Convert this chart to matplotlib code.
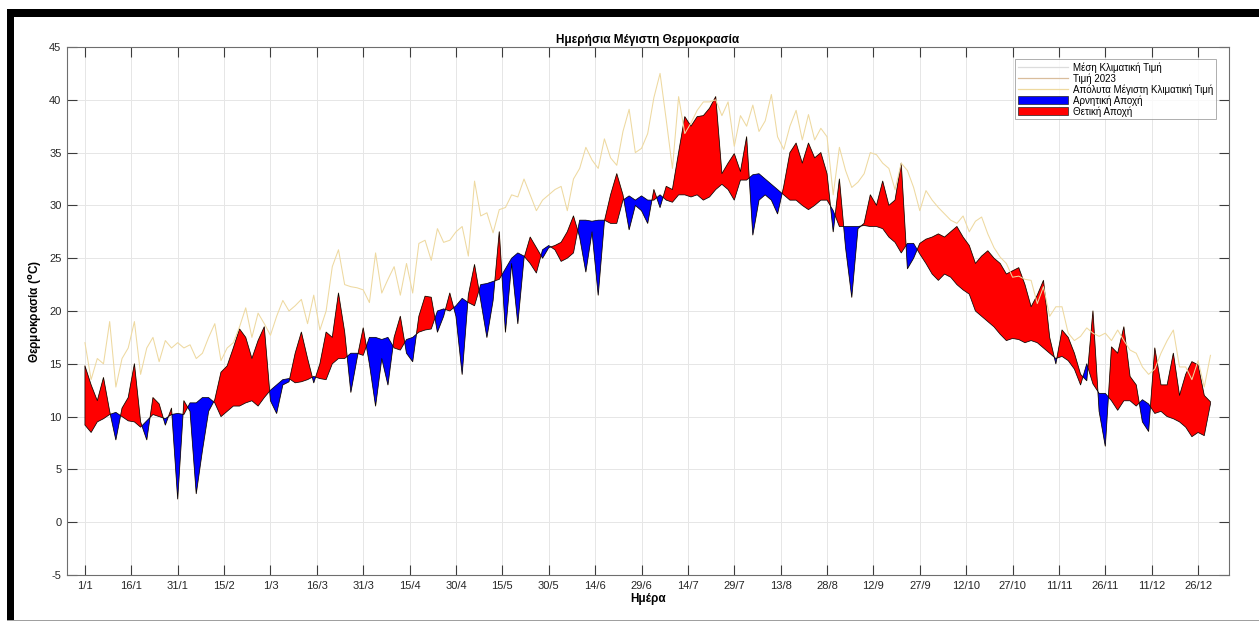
import matplotlib
matplotlib.use("Agg")
import matplotlib.pyplot as plt
from matplotlib.patches import Rectangle, Patch
from matplotlib.lines import Line2D
import numpy as np

plt.rcParams["font.family"] = ["Liberation Sans", "DejaVu Sans"]
plt.rcParams["axes.unicode_minus"] = False

# ── Data (every second day) ───────────────────────────────────────────────────
DAYS = list(range(1, 366, 2))

CLIM_MEAN = [
    9.2, 8.5, 9.5, 9.8, 10.2, 10.4, 10.0, 9.6, 9.5, 9.0,
    9.6, 10.2, 10.0, 9.8, 10.2, 10.3, 10.2, 11.3, 11.3, 11.8,
    11.8, 11.3, 10.0, 10.5, 11.0, 11.0, 11.3, 11.5, 11.0, 11.8,
    12.5, 13.0, 13.5, 13.6, 13.2, 13.3, 13.5, 13.8, 13.6, 13.5,
    15.0, 15.5, 15.5, 16.0, 16.0, 15.8, 17.5, 17.5, 17.3, 17.5,
    16.5, 16.3, 17.3, 17.5, 18.0, 18.2, 18.3, 20.0, 20.2, 20.0,
    20.5, 21.2, 20.8, 20.5, 22.5, 22.6, 22.8, 23.0, 24.0, 25.0,
    25.5, 25.2, 24.5, 23.6, 25.8, 26.2, 25.8, 24.7, 25.0, 25.5,
    28.6, 28.6, 28.5, 28.6, 28.6, 28.3, 28.3, 30.5, 30.9, 30.5,
    30.9, 30.5, 30.5, 31.0, 30.5, 30.3, 31.0, 31.0, 30.8, 31.0,
    30.5, 30.8, 31.5, 32.0, 31.5, 30.5, 32.4, 32.4, 32.9, 33.0,
    32.5, 32.0, 31.5, 31.0, 30.5, 30.5, 30.0, 29.6, 30.0, 30.5,
    30.5, 29.5, 28.0, 28.0, 28.0, 28.0, 28.1, 28.0, 28.0, 27.8,
    27.0, 26.5, 25.5, 26.4, 26.4, 25.4, 24.5, 23.5, 22.9, 23.5,
    23.2, 22.5, 22.0, 21.6, 20.0, 19.5, 19.0, 18.5, 17.8, 17.2,
    17.4, 17.3, 17.0, 17.2, 17.0, 16.5, 16.0, 15.5, 15.7, 15.3,
    14.5, 13.0, 15.0, 13.1, 12.2, 12.2, 11.5, 10.6, 11.5, 11.5,
    11.0, 11.6, 11.2, 10.3, 10.5, 10.0, 9.8, 9.5, 9.0, 8.1,
    8.5, 8.2, 11.2,
]

VALUE_2023 = [
    14.8, 13.0, 11.5, 13.7, 10.5, 7.8, 10.8, 11.8, 15.0, 9.5,
    7.8, 11.8, 11.2, 9.2, 10.8, 2.2, 11.5, 10.5, 2.7, 6.8,
    10.5, 11.6, 14.2, 14.8, 16.5, 18.3, 17.5, 15.5, 17.2, 18.5,
    11.5, 10.3, 13.0, 13.3, 16.0, 18.0, 15.5, 13.2, 15.0, 18.0,
    17.5, 21.7, 18.0, 12.3, 15.5, 18.4, 15.0, 11.0, 15.5, 13.0,
    17.5, 19.5, 16.0, 15.2, 19.5, 21.4, 21.3, 18.0, 19.5, 21.7,
    19.5, 14.0, 21.5, 24.4, 21.0, 17.5, 21.0, 27.5, 18.0, 24.5,
    18.8, 25.0, 27.0, 26.0, 25.0, 26.0, 26.2, 26.5, 27.5, 29.0,
    27.0, 23.7, 27.5, 21.5, 28.5, 31.0, 33.0, 31.0, 27.7, 30.0,
    29.5, 28.3, 31.5, 29.8, 31.8, 31.5, 35.0, 38.4, 37.5, 38.4,
    38.5, 39.2, 40.3, 33.0, 34.0, 34.9, 33.2, 36.5, 27.2, 30.5,
    31.0, 30.5, 29.2, 31.8, 35.0, 35.9, 34.0, 35.9, 34.5, 35.0,
    33.0, 27.5, 32.5, 26.0, 21.3, 27.8, 28.3, 31.0, 30.0, 32.3,
    30.0, 30.5, 34.0, 24.0, 25.0, 26.4, 26.8, 27.0, 27.3, 27.0,
    27.5, 28.0, 27.0, 26.2, 24.5, 25.2, 25.7, 25.0, 24.5, 23.5,
    23.8, 24.1, 22.5, 20.4, 21.5, 22.9, 17.5, 15.0, 18.2, 17.5,
    16.0, 14.0, 13.4, 20.0, 10.5, 7.2, 16.6, 16.0, 18.5, 13.8,
    13.0, 9.5, 8.6, 16.5, 13.0, 13.0, 16.0, 12.0, 14.0, 15.2,
    14.9, 12.0, 11.4,
]

ABS_MAX = [
    17.0, 13.5, 15.5, 15.0, 19.0, 12.8, 15.5, 16.5, 19.0, 14.0,
    16.5, 17.5, 15.2, 17.2, 16.5, 17.0, 16.5, 16.8, 15.5, 16.0,
    17.5, 18.8, 15.3, 16.5, 17.0, 18.5, 20.3, 17.5, 19.8, 18.8,
    17.7, 19.5, 21.0, 20.0, 20.5, 21.1, 18.8, 21.5, 18.2, 20.0,
    24.2, 25.8, 22.5, 22.3, 22.2, 22.0, 20.8, 25.5, 21.7, 23.0,
    24.2, 21.5, 24.5, 21.7, 26.4, 26.7, 24.8, 27.8, 26.5, 26.7,
    27.5, 28.0, 25.2, 32.3, 29.0, 29.3, 27.4, 29.6, 29.8, 31.0,
    30.8, 32.5, 31.0, 29.5, 30.5, 31.0, 31.5, 31.8, 29.5, 32.5,
    33.5, 35.5, 34.3, 33.5, 36.3, 34.5, 33.8, 37.0, 39.1, 35.0,
    35.4, 36.8, 40.2, 42.5, 38.1, 33.5, 40.3, 36.8, 37.8, 39.0,
    39.8, 39.8, 40.0, 38.5, 39.8, 35.6, 38.5, 37.5, 39.5, 37.0,
    38.0, 40.5, 36.5, 35.3, 37.5, 39.0, 36.2, 38.6, 36.2, 37.3,
    36.5, 31.0, 35.5, 33.3, 31.7, 32.2, 33.0, 35.0, 34.8, 34.0,
    33.5, 31.5, 34.0, 33.3, 31.7, 29.5, 31.4, 30.5, 29.8, 29.2,
    28.6, 28.3, 29.0, 27.5, 28.5, 28.9, 27.3, 26.0, 25.1, 24.5,
    23.2, 23.3, 23.0, 22.9, 20.7, 22.3, 19.5, 20.4, 20.4, 17.9,
    17.2, 17.6, 18.4, 17.9, 17.6, 17.9, 17.2, 18.2, 17.2, 16.3,
    16.0, 14.7, 14.0, 14.5, 16.0, 17.2, 18.2, 14.7, 14.7, 13.5,
    15.3, 12.8, 15.8,
]

TICK_DAYS = list(range(1, 362, 15))
TICK_LABELS = ["1/1", "16/1", "31/1", "15/2", "1/3", "16/3", "31/3", "15/4",
               "30/4", "15/5", "30/5", "14/6", "29/6", "14/7", "29/7", "13/8",
               "28/8", "12/9", "27/9", "12/10", "27/10", "11/11", "26/11",
               "11/12", "26/12"]

# ── Colours ───────────────────────────────────────────────────────────────────
MEAN_C = "#dcdcdc"
Y2023_C = "#d9bd9c"
ABSMAX_C = "#eed9a0"
AXIS_C = "#3c3c3c"

x = np.array(DAYS)
mean = np.array(CLIM_MEAN)
val = np.array(VALUE_2023)
amax = np.array(ABS_MAX)

fig = plt.figure(figsize=(12.59, 6.22), dpi=100)
ax = fig.add_axes([67 / 1259, 1 - 575 / 622, (1229 - 67) / 1259, (575 - 47) / 622])

ax.plot(x, mean, color=MEAN_C, lw=0.8, zorder=2)
ax.plot(x, val, color=Y2023_C, lw=0.8, zorder=2)
ax.plot(x, amax, color=ABSMAX_C, lw=0.75, zorder=4)

ax.fill_between(x, mean, val, where=val < mean, interpolate=True,
                facecolor="#0000ff", edgecolor="black", lw=0.5, zorder=3)
ax.fill_between(x, mean, val, where=val >= mean, interpolate=True,
                facecolor="#ff0000", edgecolor="black", lw=0.5, zorder=3)

ax.set_xlim(-4.8, 371)
ax.set_ylim(-5, 45)
ax.set_xticks(TICK_DAYS)
ax.set_xticklabels(TICK_LABELS)
ax.set_yticks(np.arange(-5, 46, 5))

ax.grid(True, color="#e6e6e6", lw=0.7, zorder=0)
ax.set_axisbelow(True)
ax.tick_params(direction="in", length=7.5, width=0.8, color=AXIS_C,
               labelsize=8, labelcolor="#262626", top=True, right=True, pad=4)
for s in ax.spines.values():
    s.set_color("#6e6e6e")
    s.set_linewidth(0.8)

ax.set_title("Ημερήσια Μέγιστη Θερμοκρασία", fontsize=8.5, fontweight="bold", pad=3)
ax.set_xlabel("Ημέρα", fontsize=8.5, fontweight="bold", labelpad=2)
ax.set_ylabel(r"Θερμοκρασία ($^{\mathbf{o}}$C)", fontsize=8.5, fontweight="bold", labelpad=4)

handles = [
    Line2D([], [], color=MEAN_C, lw=0.9),
    Line2D([], [], color=Y2023_C, lw=0.9),
    Line2D([], [], color=ABSMAX_C, lw=0.9),
    Patch(facecolor="#0000ff", edgecolor="#222222", lw=0.5),
    Patch(facecolor="#ff0000", edgecolor="#222222", lw=0.5),
]
labels = ["Μέση Κλιματική Τιμή", "Τιμή 2023", "Απόλυτα Μέγιστη Κλιματική Τιμή",
          "Αρνητική Αποχή", "Θετική Αποχή"]
leg = ax.legend(handles, labels, loc="upper right", bbox_to_anchor=(0.989, 0.977),
                fontsize=7, frameon=True, fancybox=False, handlelength=5.2,
                handleheight=0.9, labelspacing=0.05, borderpad=0.3,
                handletextpad=0.5, borderaxespad=0)
leg.get_frame().set_edgecolor("#9a9a9a")
leg.get_frame().set_linewidth(0.7)

# black frame around the screenshot
fig.add_artist(Rectangle((7 / 1259, 1 - 17 / 622), 1, 8 / 622,
                         transform=fig.transFigure, color="black", lw=0))
fig.add_artist(Rectangle((7 / 1259, 2 / 622), 7 / 1259, 611 / 622,
                         transform=fig.transFigure, color="black", lw=0))
fig.add_artist(Rectangle((7 / 1259, 1 / 622), 1, 1.5 / 622,
                         transform=fig.transFigure, color="#a0a0a0", lw=0))

fig.savefig("out.png", dpi=100)
